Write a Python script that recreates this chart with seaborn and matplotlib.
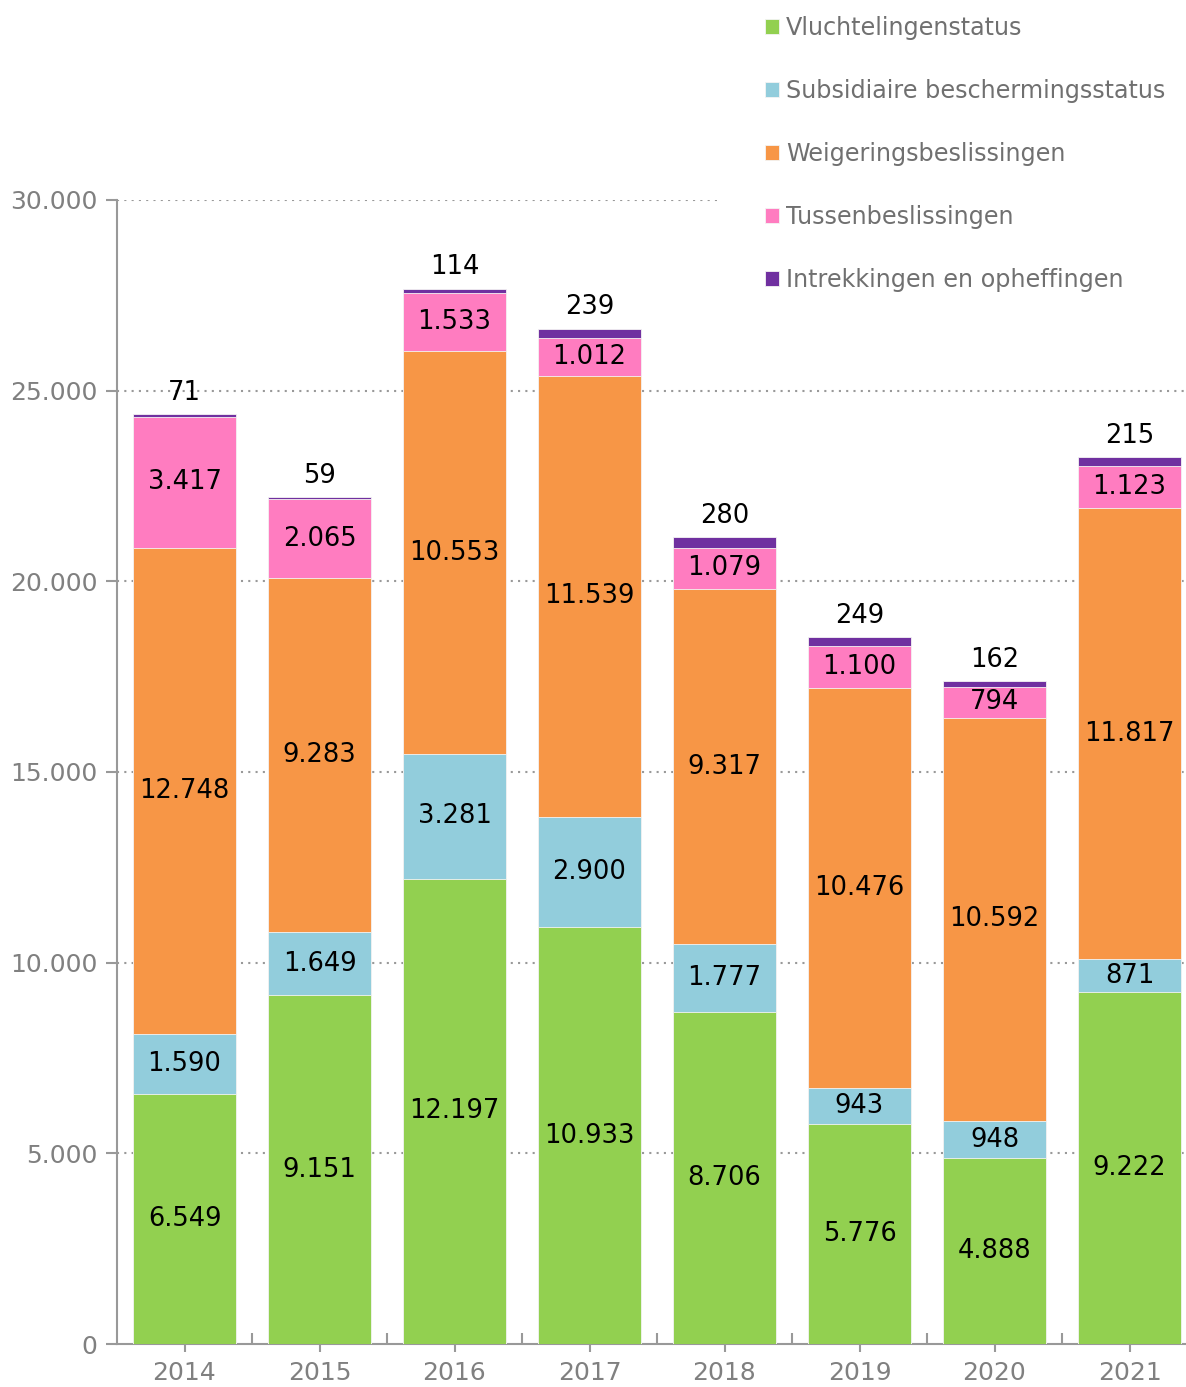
import seaborn as sns
import matplotlib.pyplot as plt
import matplotlib.ticker as mticker
import numpy as np
import pandas as pd

years = ['2014', '2015', '2016', '2017', '2018', '2019', '2020', '2021']
series = ['Vluchtelingenstatus', 'Subsidiaire beschermingsstatus', 'Weigeringsbeslissingen',
          'Tussenbeslissingen', 'Intrekkingen en opheffingen']
vlucht = [6549, 9151, 12197, 10933, 8706, 5776, 4888, 9222]
subsid = [1590, 1649, 3281, 2900, 1777, 943, 948, 871]
weiger = [12748, 9283, 10553, 11539, 9317, 10476, 10592, 11817]
tussen = [3417, 2065, 1533, 1012, 1079, 1100, 794, 1123]
intrek = [71, 59, 114, 239, 280, 249, 162, 215]
colors = ['#92D050', '#92CDDC', '#F79646', '#FF7CC0', '#7030A0']


def fmt(v):
    return f'{v:,.0f}'.replace(',', '.')


sns.set_style('white')
plt.rcParams['font.family'] = ['DejaVu Sans']

values = np.array([vlucht, subsid, weiger, tussen, intrek])
cum = values.cumsum(axis=0)

fig = plt.figure(figsize=(11.86, 13.87), dpi=100)
ax = fig.add_axes([117 / 1186, 43 / 1387, 1080 / 1186, 1144 / 1387])

# draw cumulative totals from the top layer down so each layer shows as a stacked segment
for i in range(len(series) - 1, -1, -1):
    df = pd.DataFrame({'year': years, 'value': cum[i]})
    sns.barplot(data=df, x='year', y='value', color=colors[i], width=0.77,
                saturation=1, ax=ax, label=series[i], zorder=3, linewidth=0.6, edgecolor='#f4f4f4')

# segment labels
for i in range(4):
    for j, y in enumerate(years):
        mid = cum[i][j] - values[i][j] / 2
        ax.text(j, mid, fmt(values[i][j]), ha='center', va='center', fontsize=18.5, color='black', zorder=5)
for j, y in enumerate(years):
    ax.annotate(fmt(intrek[j]), (j, cum[4][j]), xytext=(0, 6), textcoords='offset points',
                ha='center', va='bottom', fontsize=18.5, color='black', zorder=5)

ax.set_ylim(0, 30000)
ax.set_xlim(-0.5, 7.5)
ax.yaxis.set_major_locator(mticker.MultipleLocator(5000))
ax.yaxis.set_major_formatter(mticker.FuncFormatter(lambda v, p: fmt(v)))
ax.set_xlabel('')
ax.set_ylabel('')

for v in range(5000, 30001, 5000):
    xmax = (722 - 117) / 1080 if v == 30000 else 1
    ax.axhline(v, xmax=xmax, color='#999999', linestyle=(0, (1, 2.5)), linewidth=1.5, zorder=1)

for s in ['top', 'right']:
    ax.spines[s].set_visible(False)
for s in ['left', 'bottom']:
    ax.spines[s].set_color('#999999')
    ax.spines[s].set_linewidth(1.5)

ax.tick_params(axis='y', which='major', direction='out', length=8, width=1.5, color='#999999',
               labelsize=18, labelcolor='#808080', pad=6, left=True)
ax.tick_params(axis='x', which='major', direction='out', length=6, width=1.5, color='#999999',
               labelsize=18, labelcolor='#808080', pad=6, bottom=True)
ax.set_xticks(np.arange(0.5, 7.5, 1), minor=True)
ax.tick_params(axis='x', which='minor', direction='in', length=8, width=1.5, color='#999999', bottom=True)

handles, labels = ax.get_legend_handles_labels()
order = [labels.index(s) for s in series]
if ax.get_legend() is not None:
    ax.get_legend().remove()
fig.legend([handles[k] for k in order], series, loc='upper left', bbox_to_anchor=(741 / 1186, 1.0056),
           frameon=False, fontsize=17.2, labelcolor='#707070', handlelength=0.58, handleheight=0.58,
           handletextpad=0.3, labelspacing=1.635, borderpad=1.0, borderaxespad=0)

fig.savefig('out.png', dpi=100)
